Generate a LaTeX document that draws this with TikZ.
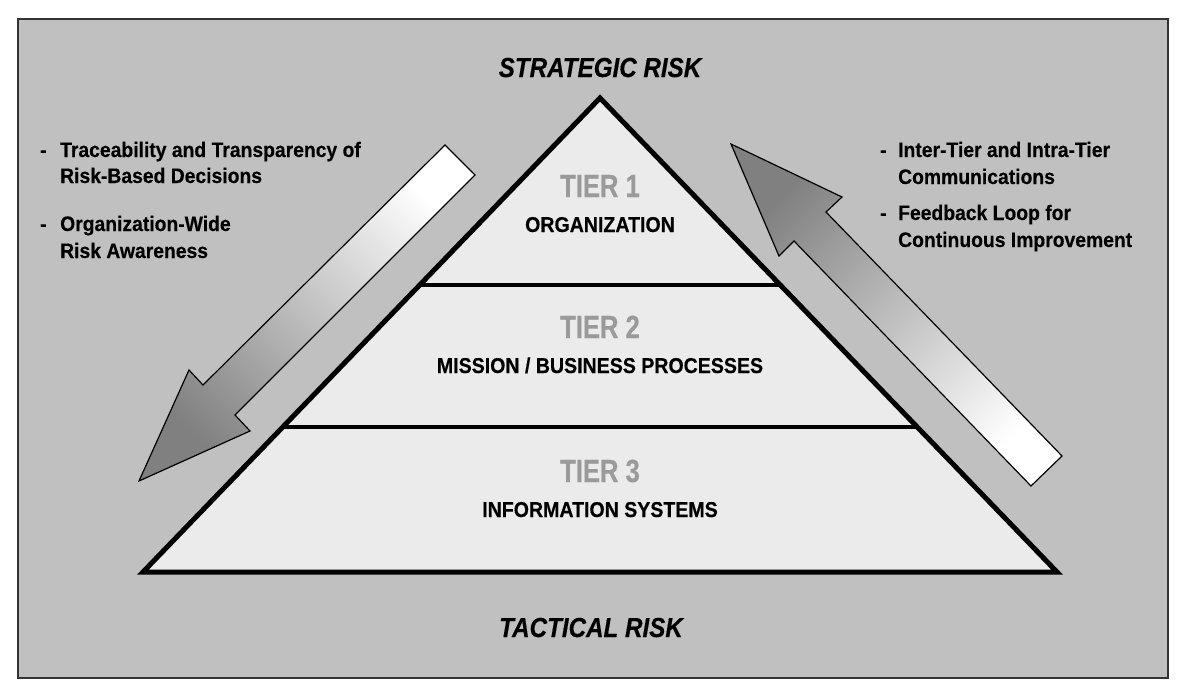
\documentclass[tikz,border=0pt]{standalone}
\usepackage{fontspec}
\setmainfont{Liberation Sans}
\newfontfamily\sidefont[FakeStretch=0.92,FakeBold=0.35]{Liberation Sans}
\newfontfamily\labfont[FakeStretch=0.91,FakeBold=0.35]{Liberation Sans}
\newfontfamily\tierfont[FakeStretch=0.80,FakeBold=0.35]{Liberation Sans}
\newfontfamily\riskfont[FakeStretch=0.88,FakeBold=0.35]{Liberation Sans}
\usetikzlibrary{calc}
\definecolor{bggray}{HTML}{C0C0C0}
\definecolor{pyrfill}{HTML}{EBEBEB}
\definecolor{tiergray}{HTML}{9A9A9A}
\definecolor{framecol}{HTML}{333333}
\tikzset{
  risklabel/.style={anchor=base, inner sep=0pt, font=\riskfont\fontsize{27.5}{30}\selectfont\bfseries\itshape},
  tierlabel/.style={anchor=base, inner sep=0pt, text=tiergray, font=\tierfont\fontsize{32}{34}\selectfont\bfseries},
  namelabel/.style={anchor=base, inner sep=0pt, font=\labfont\fontsize{21.5}{24}\selectfont\bfseries},
  sidetext/.style={anchor=base west, inner sep=0pt, font=\sidefont\fontsize{21}{24}\selectfont\bfseries},
  bigarrow/.style={draw=black, line width=1.2pt, line join=miter},
  pyrline/.style={line width=4.6pt},
}
\begin{document}
\begin{tikzpicture}[x=1pt,y=-1pt]
\useasboundingbox (0,0) rectangle (1184,694);
% frame
\draw[fill=bggray, draw=framecol, line width=2pt] (18,19) rectangle (1168,678);
% pyramid
\coordinate (apex) at (600,98);
\coordinate (bl) at (143,572);
\coordinate (br) at (1057,572);
\draw[fill=pyrfill, line width=5pt, line join=miter] (apex) -- (br) -- (bl) -- cycle;
\coordinate (l1) at ($(apex)!0.3945!(bl)$);
\coordinate (r1) at ($(apex)!0.3945!(br)$);
\coordinate (l2) at ($(apex)!0.694!(bl)$);
\coordinate (r2) at ($(apex)!0.694!(br)$);
\draw[pyrline] (l1) -- (r1);
\draw[pyrline] (l2) -- (r2);
% arrows
\shade[bigarrow, top color=white, middle color=black!20, bottom color=black!50, shading angle=-45]
  (445,145) -- (475,175) -- (235,415) -- (250,431) -- (139,481) -- (189,370) -- (203,385) -- cycle;
\shade[bigarrow, top color=black!50, middle color=black!20, bottom color=white, shading angle=45]
  (731,144) -- (842,197) -- (826,212) -- (1062,456) -- (1031,486) -- (794,241) -- (779,256) -- cycle;
% titles
\node[risklabel] (strat) at (600,77) {STRATEGIC RISK};
\node[risklabel] (tact) at (591,637) {TACTICAL RISK};
% tiers
\node[tierlabel] (t1) at (600,197) {TIER 1};
\node[namelabel] (n1) at (600,232) {ORGANIZATION};
\node[tierlabel] (t2) at (600,338) {TIER 2};
\node[namelabel] (n2) at (600,373) {MISSION / BUSINESS PROCESSES};
\node[tierlabel] (t3) at (600,482) {TIER 3};
\node[namelabel] (n3) at (600,517) {INFORMATION SYSTEMS};
% left text
\node[sidetext] (ld1) at (40,157) {-};
\node[sidetext] (la1) at (60,157) {Traceability and Transparency of};
\node[sidetext] (la2) at (60,183) {Risk-Based Decisions};
\node[sidetext] (ld2) at (40,231) {-};
\node[sidetext] (lb1) at (60,231) {Organization-Wide};
\node[sidetext] (lb2) at (60,258) {Risk Awareness};
% right text
\node[sidetext] (rd1) at (880,157) {-};
\node[sidetext] (ra1) at (898,157) {Inter-Tier and Intra-Tier};
\node[sidetext] (ra2) at (898,184) {Communications};
\node[sidetext] (rd2) at (880,220) {-};
\node[sidetext] (rb1) at (898,220) {Feedback Loop for};
\node[sidetext] (rb2) at (898,247) {Continuous Improvement};
\end{tikzpicture}
\end{document}
